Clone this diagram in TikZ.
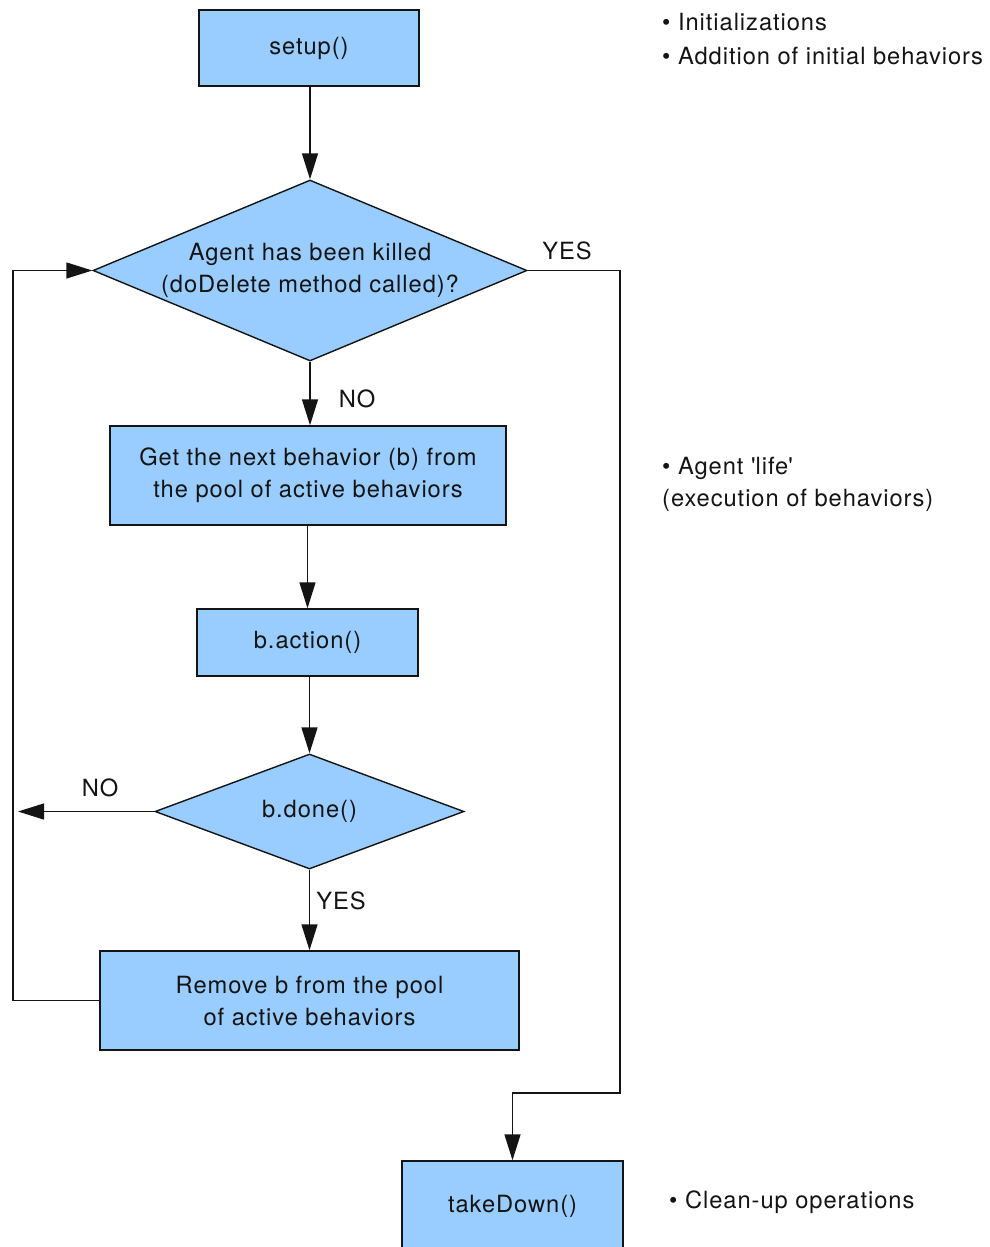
\documentclass[tikz,border=0pt]{standalone}
\usepackage{fontspec}
\setmainfont{TeX Gyre Heros}[LetterSpace=4]
\usetikzlibrary{arrows.meta,shapes.geometric}
\definecolor{boxblue}{HTML}{99CCFF}
\definecolor{ink}{HTML}{141414}
\begin{document}
\begin{tikzpicture}[x=1pt,y=-1pt,
  every node/.style={font=\fontsize{23.7}{32}\selectfont, text=ink},
  procbox/.style={draw=ink, fill=boxblue, line width=1.4pt, rectangle, inner sep=0pt, align=center},
  decide/.style={draw=ink, fill=boxblue, line width=1.4pt, diamond, aspect=2.5, inner sep=0pt, align=center},
  flow/.style={draw=ink, line width=1.4pt, -{Triangle[length=26pt,width=16pt]}},
  lbl/.style={inner sep=0pt},
  note/.style={inner sep=0pt, anchor=west, align=left}]
\useasboundingbox (0,0) rectangle (990,1247);

% main flow
\node[procbox, minimum width=220pt, minimum height=76pt] (setup) at (309,48) {setup()};
\node[decide, minimum width=434pt, minimum height=181pt] (killed) at (310,270.5)
  {Agent has been killed\\(doDelete method called)?};
\node[procbox, minimum width=396pt, minimum height=99pt] (next) at (308,475.5)
  {Get the next behavior (b) from\\the pool of active behaviors};
\node[procbox, minimum width=221pt, minimum height=67pt] (action) at (307.5,642.5) {b.action()};
\node[decide, minimum width=309pt, minimum height=115pt] (done) at (309.5,811.5) {b.done()};
\node[procbox, minimum width=419pt, minimum height=99pt] (remove) at (309.5,1000.5)
  {Remove b from the pool\\of active behaviors};
\node[procbox, minimum width=221pt, minimum height=90pt] (down) at (512.5,1206) {takeDown()};

% connectors
\draw[flow] (setup.south -| killed.north) -- (killed.north);
\draw[flow] (killed.south) -- (next.north -| killed.south);
\draw[flow] (next.south -| action.north) -- (action.north);
\draw[flow] (action.south -| done.north) -- (done.north);
\draw[flow] (done.south) -- (remove.north -| done.south);
\coordinate (nofree) at (18,811.5);
\draw[flow] (done.west) -- (nofree);
\draw[flow] (remove.west) -- (13,1000.5) -- (13,270.5) -- (killed.west);
\draw[flow] (killed.east) -- (620,270.5) -- (620,1093) -- (512.5,1093) -- (down.north);

% branch labels
\node[lbl] (yes1) at (567,251) {YES};
\node[lbl] (no1) at (357,399) {NO};
\node[lbl] (no2) at (100,788) {NO};
\node[lbl] (yes2) at (341,901) {YES};

% side notes
\node[note] (n1) at (662,22) {\textbullet{} Initializations};
\node[note] (n2) at (662,56) {\textbullet{} Addition of initial behaviors};
\node[note] (n3) at (662,468) {\textbullet{} Agent \textquotesingle life\textquotesingle};
\node[note] (n4) at (662,500) {(execution of behaviors)};
\node[note] (n5) at (669,1202) {\textbullet{} Clean-up operations};
\end{tikzpicture}
\end{document}
